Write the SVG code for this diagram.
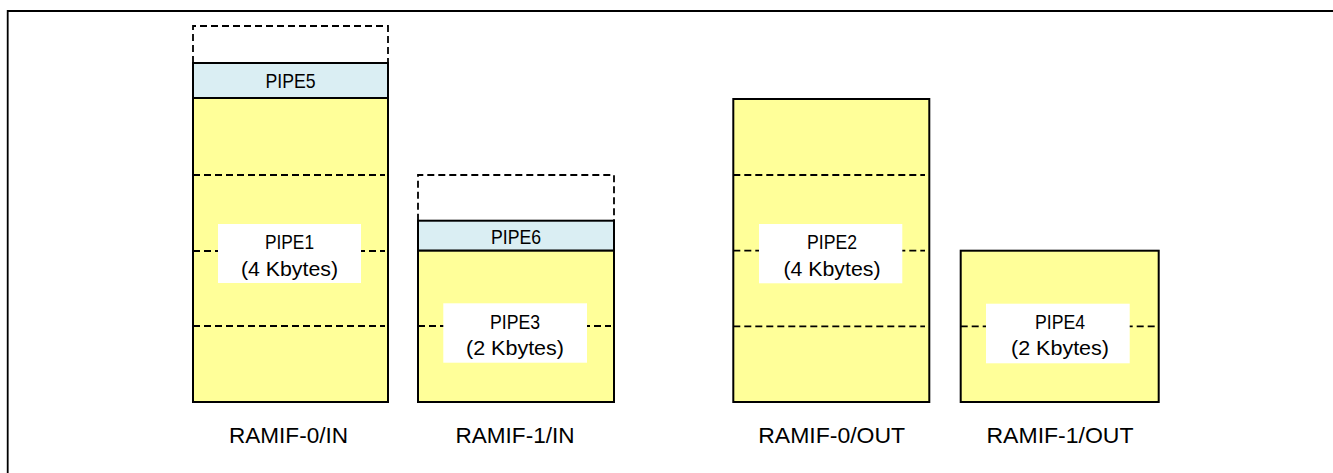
<svg xmlns="http://www.w3.org/2000/svg" width="1333" height="473" viewBox="0 0 1333 473">
<style>
.frame{fill:none;stroke:#000;stroke-width:1.8}
.yel{fill:#FFFF99;stroke:#000;stroke-width:2}
.blu{fill:#DAEEF3;stroke:#000;stroke-width:2}
.dash{fill:none;stroke:#000;stroke-width:1.8;stroke-dasharray:7,4}
.lbl{fill:#fff;stroke:none}
.t{font-family:"Liberation Sans",Arial,sans-serif;font-size:21px;fill:#000;text-anchor:middle}
.cap{font-family:"Liberation Sans",Arial,sans-serif;font-size:22px;fill:#000;text-anchor:middle}
</style>
<rect x="0" y="0" width="1333" height="473" fill="#fff"/>
<path class="frame" d="M7.7,473 V11 H1333"/>
<g id="ramif0-in">
<path class="dash" d="M193,63 V26 H388 V63"/>
<rect class="blu" x="193" y="63" width="195" height="35"/>
<text class="t" x="290.5" y="88" textLength="50" lengthAdjust="spacingAndGlyphs">PIPE5</text>
<rect class="yel" x="193" y="98" width="195" height="304"/>
<line class="dash" x1="193" y1="175" x2="385" y2="175"/>
<line class="dash" x1="193" y1="251" x2="385" y2="251"/>
<line class="dash" x1="193" y1="326" x2="385" y2="326"/>
<rect class="lbl" x="218" y="224" width="143" height="59"/>
<text class="t" x="289.5" y="249" textLength="49" lengthAdjust="spacingAndGlyphs">PIPE1</text>
<text class="t" x="289.5" y="276" textLength="97" lengthAdjust="spacingAndGlyphs">(4 Kbytes)</text>
<text class="cap" x="288.5" y="443" textLength="119" lengthAdjust="spacingAndGlyphs">RAMIF-0/IN</text>
</g>
<g id="ramif1-in">
<path class="dash" d="M418,220.7 V175 H614 V220.7"/>
<rect class="blu" x="418" y="220.7" width="196" height="30"/>
<text class="t" x="516" y="243.5" textLength="50" lengthAdjust="spacingAndGlyphs">PIPE6</text>
<rect class="yel" x="418" y="250.7" width="196" height="151.3"/>
<line class="dash" x1="418" y1="326" x2="611" y2="326"/>
<rect class="lbl" x="443.3" y="303.3" width="143.7" height="59.4"/>
<text class="t" x="515" y="328.5" textLength="50" lengthAdjust="spacingAndGlyphs">PIPE3</text>
<text class="t" x="515" y="354.5" textLength="98" lengthAdjust="spacingAndGlyphs">(2 Kbytes)</text>
<text class="cap" x="515" y="443" textLength="119" lengthAdjust="spacingAndGlyphs">RAMIF-1/IN</text>
</g>
<g id="ramif0-out">
<rect class="yel" x="733.3" y="99" width="196" height="303"/>
<line class="dash" x1="733.3" y1="175" x2="925" y2="175"/>
<line class="dash" x1="733.3" y1="250.7" x2="925" y2="250.7"/>
<line class="dash" x1="733.3" y1="326.3" x2="925" y2="326.3"/>
<rect class="lbl" x="759" y="224" width="143.3" height="59.3"/>
<text class="t" x="832" y="249" textLength="50" lengthAdjust="spacingAndGlyphs">PIPE2</text>
<text class="t" x="832" y="276" textLength="97" lengthAdjust="spacingAndGlyphs">(4 Kbytes)</text>
<text class="cap" x="831.7" y="443" textLength="147" lengthAdjust="spacingAndGlyphs">RAMIF-0/OUT</text>
</g>
<g id="ramif1-out">
<rect class="yel" x="960.7" y="250.7" width="198" height="151.3"/>
<line class="dash" x1="960.7" y1="326.3" x2="1156" y2="326.3"/>
<rect class="lbl" x="986" y="303.7" width="143.7" height="59.6"/>
<text class="t" x="1060" y="328.5" textLength="50" lengthAdjust="spacingAndGlyphs">PIPE4</text>
<text class="t" x="1060" y="354.5" textLength="98" lengthAdjust="spacingAndGlyphs">(2 Kbytes)</text>
<text class="cap" x="1060" y="443" textLength="147" lengthAdjust="spacingAndGlyphs">RAMIF-1/OUT</text>
</g>
<g id="connectors"></g>
</svg>
